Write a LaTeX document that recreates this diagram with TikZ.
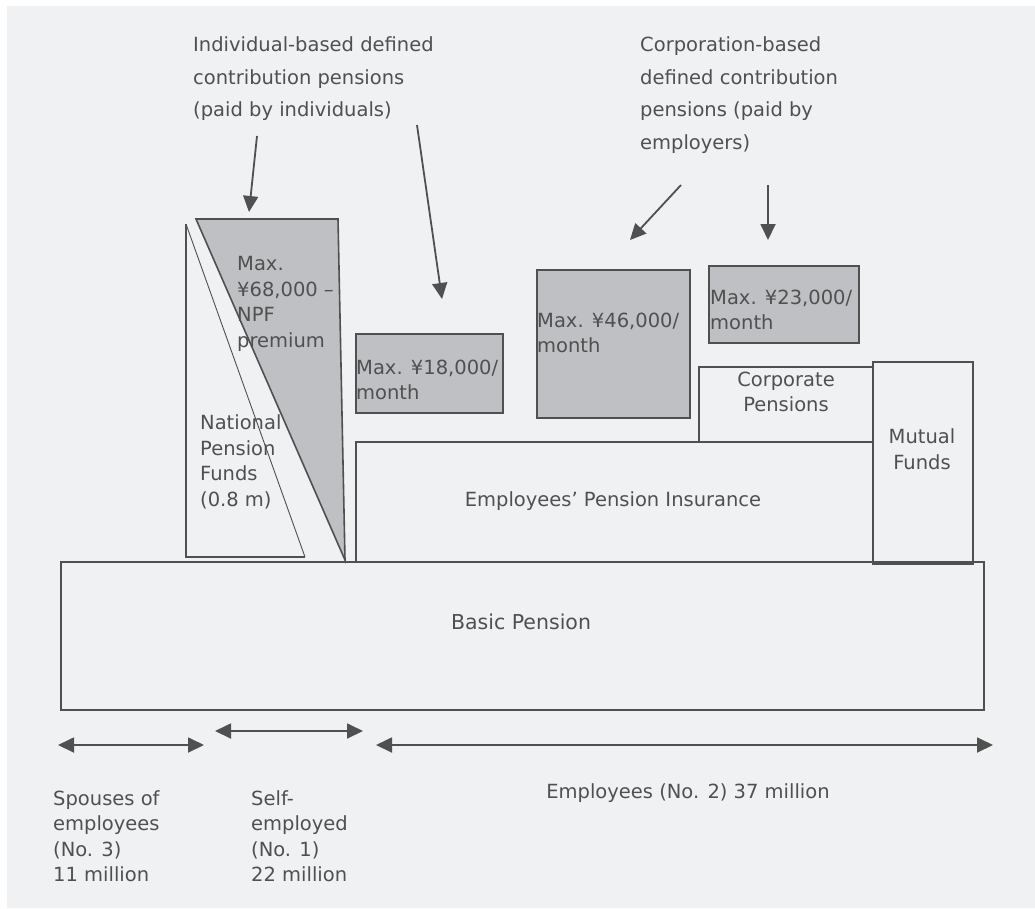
\documentclass[tikz,border=0pt]{standalone}
\usepackage{fontspec}
\setmainfont{DejaVu Sans}
\usetikzlibrary{arrows.meta}
\definecolor{paper}{HTML}{F0F1F3}
\definecolor{shade}{HTML}{BFC0C4}
\definecolor{ink}{HTML}{505050}
\definecolor{txt}{HTML}{505050}
\tikzset{
  box/.style={draw=ink, line width=1.6pt, inner sep=0pt, anchor=north west},
  greybox/.style={box, fill=shade},
  lbl/.style={inner sep=0pt, align=left, anchor=west, text=txt},
  ctr/.style={inner sep=0pt, align=center, anchor=center, text=txt},
  head/.style={lbl, font=\fontsize{19.5}{32.5}\selectfont},
  ptr/.style={draw=ink, line width=1.8pt, -{Triangle[length=16pt,width=15pt]}},
  span/.style={draw=ink, line width=1.8pt,
    {Triangle[length=16pt,width=15pt]}-{Triangle[length=16pt,width=15pt]}},
}
\begin{document}
\begin{tikzpicture}[x=1pt, y=-1pt, font=\fontsize{19.5}{25.5}\selectfont]
\useasboundingbox (0,0) rectangle (1035,908);
\fill[white] (0,0) rectangle (1035,908);
\fill[paper] (7,6) rectangle (1035,908);

% base tiers
\node[box, minimum width=923pt, minimum height=148pt] (basic) at (60,561) {};
\node[box, minimum width=517pt, minimum height=120pt] (epi) at (355,441) {};
\node[box, minimum width=174pt, minimum height=75pt] (corp) at (698,366) {};
\node[box, minimum width=100pt, minimum height=202pt] (mutual) at (872,361) {};

% defined contribution ceilings
\node[greybox, minimum width=147pt, minimum height=79pt] (dc18) at (355,333) {};
\node[greybox, minimum width=153pt, minimum height=148pt] (dc46) at (536,269) {};
\node[greybox, minimum width=150pt, minimum height=77pt] (dc23) at (708,265) {};

% national pension funds wedge and the individual contribution wedge
\coordinate (npfTop) at (186,224);
\coordinate (npfBot) at (186,557);
\coordinate (npfEnd) at (305,557);
\draw[ink, line width=1.6pt] (npfEnd) -- (npfBot) -- (npfTop);
\draw[ink, line width=0.9pt] (npfTop) -- (npfEnd);
\coordinate (idcL) at (196,219);
\coordinate (idcR) at (338,219);
\coordinate (idcB) at (345,560);
\filldraw[fill=shade, draw=ink, line width=1.6pt] (idcL) -- (idcR) -- (idcB) -- cycle;

% texts
\node[head] (indiv) at (193,79) {Individual-based defined\\contribution pensions\\(paid by individuals)};
\node[head] (corpdc) at (640,95) {Corporation-based\\defined contribution\\pensions (paid by\\employers)};
\node[lbl] (t68) at (237,304) {Max.\\¥68,000 –\\NPF\\premium};
\node[lbl] (tnpf) at (200,462) {National\\Pension\\Funds\\(0.8 m)};
\node[lbl] (t18) at (356,380) {Max. ¥18,000/\\month};
\node[lbl] (t46) at (537,333) {Max. ¥46,000/\\month};
\node[lbl] (t23) at (710,310) {Max. ¥23,000/\\month};
\node[ctr] (tcorp) at (786,392) {Corporate\\Pensions};
\node[ctr] (tmut) at (922,449) {Mutual\\Funds};
\node[ctr] (tepi) at (613,501) {Employees’ Pension Insurance};
\node[ctr, font=\fontsize{20.5}{25.5}\selectfont] (tbasic) at (521,622) {Basic Pension};
\node[lbl] (tsp) at (53,836) {Spouses of\\employees\\(No. 3)\\11 million};
\node[lbl] (tself) at (251,836) {Self-\\employed\\(No. 1)\\22 million};
\node[ctr] (temp) at (688,793) {Employees (No. 2) 37 million};

% pointers from the headings
\coordinate (p1s) at (257,136); \coordinate (p1e) at (249,212);
\coordinate (p2s) at (417,125); \coordinate (p2e) at (442,299);
\coordinate (p3s) at (681,185); \coordinate (p3e) at (630,240);
\coordinate (p4s) at (768,185); \coordinate (p4e) at (768,240);
\draw[ptr] (p1s) -- (p1e);
\draw[ptr] (p2s) -- (p2e);
\draw[ptr] (p3s) -- (p3e);
\draw[ptr] (p4s) -- (p4e);

% population spans
\coordinate (s1a) at (58,745);  \coordinate (s1b) at (204,745);
\coordinate (s2a) at (215,731); \coordinate (s2b) at (363,731);
\coordinate (s3a) at (376,745); \coordinate (s3b) at (993,745);
\draw[span] (s1a) -- (s1b);
\draw[span] (s2a) -- (s2b);
\draw[span] (s3a) -- (s3b);
\end{tikzpicture}
\end{document}
